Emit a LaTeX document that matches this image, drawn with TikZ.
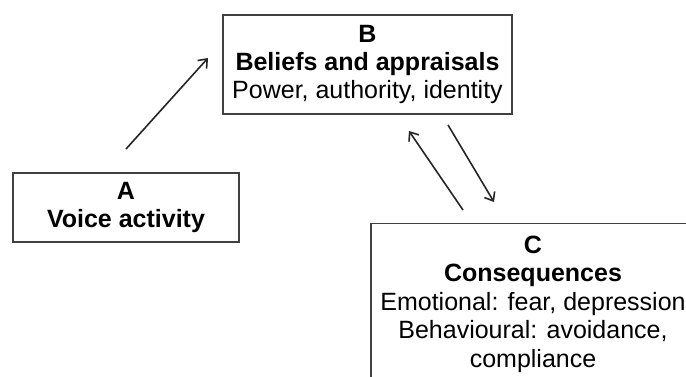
\documentclass[tikz,border=0pt]{standalone}
\usepackage{fontspec}
\setmainfont{Liberation Sans}
\usetikzlibrary{arrows.meta}
\begin{document}
\begin{tikzpicture}[x=1pt,y=-1pt,
  box/.style={draw=black!75,line width=1.3pt,align=center,inner sep=0pt,
    font=\fontsize{25}{28}\selectfont},
  link/.style={line width=1.6pt,draw=black!85,
    -{Straight Barb[length=7.5pt,width=12pt,line width=1.6pt]}}]
\clip (0,0) rectangle (686,376);
\fill[white] (0,0) rectangle (686,376);

% the three stages of the model
\node[box,minimum width=289pt,minimum height=99pt] (B) at (367.5,64.5)
  {\textbf{B}\\\textbf{Beliefs and appraisals}\\Power, authority, identity};
\node[box,minimum width=226pt,minimum height=69pt] (A) at (126,207.5)
  {\textbf{A}\\\textbf{Voice activity}};
\node[box,minimum width=324pt,anchor=north,inner ysep=12pt,
  font=\fontsize{25}{28.5}\selectfont] (C) at (533,223)
  {\textbf{C}\\\textbf{Consequences}\\Emotional: fear, depression\\
   Behavioural: avoidance,\\compliance};

% loose ends of the arrows
\coordinate (a1) at (126,149);
\coordinate (b1) at (208,58);
\coordinate (c1) at (463,210);
\coordinate (b2) at (409,131);
\coordinate (b3) at (448,125);
\coordinate (c2) at (494,202);

\draw[link] (a1) -- (b1);
\draw[link] (c1) -- (b2);
\draw[link] (b3) -- (c2);
\end{tikzpicture}
\end{document}
